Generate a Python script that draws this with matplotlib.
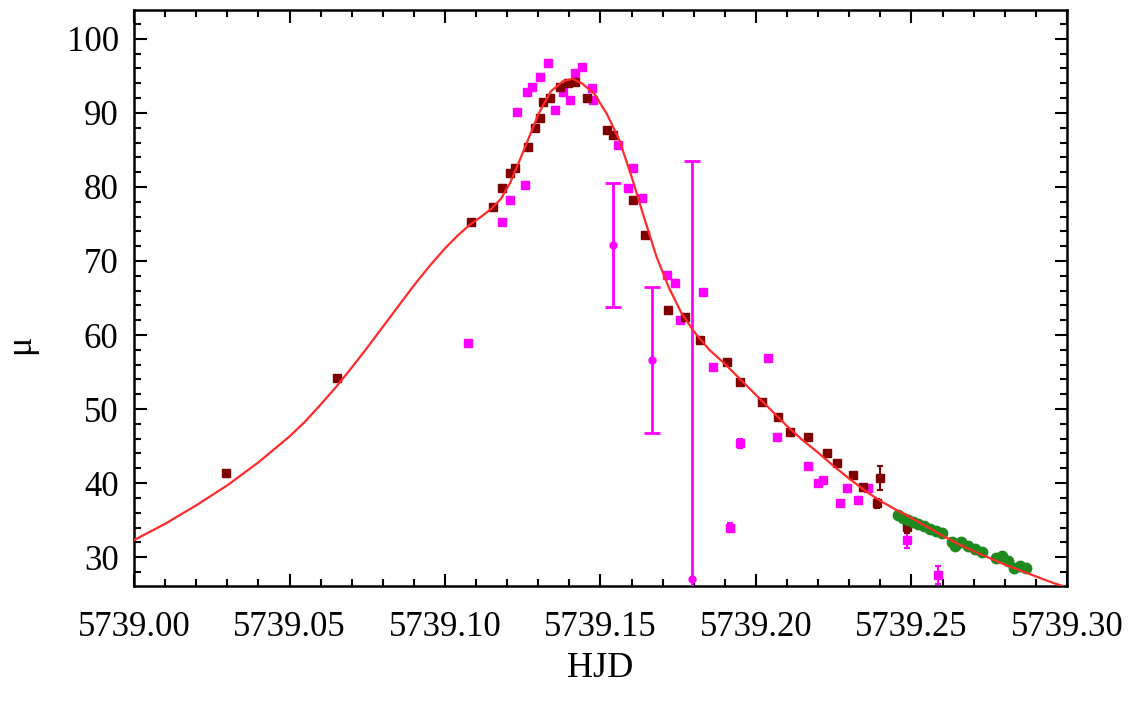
import matplotlib
matplotlib.use("Agg")
import matplotlib.pyplot as plt
import numpy as np
from matplotlib.ticker import MultipleLocator, FormatStrFormatter

plt.rcParams['font.family'] = ['Liberation Serif', 'DejaVu Serif']

T0 = 5739.0

# fitted model curve (HJD - 5739, mu)
fit_x = [0.000, 0.010, 0.020, 0.030, 0.040, 0.050, 0.055, 0.060, 0.065, 0.070,
         0.075, 0.080, 0.085, 0.090, 0.095, 0.100, 0.104, 0.108, 0.112, 0.115,
         0.118, 0.121, 0.125, 0.130, 0.134, 0.138, 0.141, 0.144, 0.148, 0.152,
         0.156, 0.160, 0.164, 0.168, 0.172, 0.176, 0.180, 0.185, 0.190, 0.195,
         0.200, 0.205, 0.210, 0.215, 0.220, 0.225, 0.230, 0.235, 0.240, 0.245,
         0.250, 0.255, 0.260, 0.265, 0.270, 0.275, 0.280, 0.285, 0.290, 0.295,
         0.300]
fit_y = [32.3, 34.5, 37.0, 39.7, 42.8, 46.3, 48.3, 50.6, 53.0, 55.6,
         58.3, 61.1, 63.9, 66.7, 69.3, 71.7, 73.4, 74.9, 76.1, 77.1,
         78.4, 80.6, 84.6, 89.8, 92.9, 94.3, 94.6, 94.0, 92.6, 89.9,
         86.4, 81.4, 75.9, 70.6, 66.4, 63.0, 60.5, 58.0, 56.1, 54.0,
         51.9, 49.8, 47.7, 45.8, 44.1, 42.3, 40.6, 39.0, 37.6, 36.4,
         35.3, 34.1, 32.9, 31.8, 30.8, 29.9, 29.0, 28.2, 27.4, 26.6,
         25.9]

# dark red data set
dark_x = [0.0296, 0.0653, 0.1083, 0.1154, 0.1183, 0.1209, 0.1225, 0.1267, 0.1289,
          0.1305, 0.1315, 0.1337, 0.1370, 0.1395, 0.1418, 0.1456, 0.1521, 0.1540,
          0.1604, 0.1643, 0.1717, 0.1772, 0.1820, 0.1906, 0.1948, 0.2019, 0.2071,
          0.2109, 0.2167, 0.2228, 0.2260, 0.2312, 0.2344, 0.2389, 0.2398, 0.2485]
dark_y = [41.3, 54.2, 75.3, 77.3, 79.9, 81.9, 82.6, 85.4, 88.0,
          89.3, 91.5, 92.0, 93.5, 94.1, 94.2, 92.0, 87.7, 87.0,
          78.2, 73.5, 63.4, 62.4, 59.3, 56.4, 53.6, 50.9, 48.9,
          46.9, 46.2, 44.1, 42.7, 41.1, 39.5, 37.3, 40.7, 34.1]
dark_e = [0.3, 0.3, 0.3, 0.3, 0.3, 0.3, 0.3, 0.3, 0.3,
          0.3, 0.3, 0.3, 0.3, 0.3, 0.3, 0.3, 0.3, 0.3,
          0.3, 0.3, 0.3, 0.3, 0.3, 0.3, 0.3, 0.3, 0.3,
          0.3, 0.3, 0.3, 0.3, 0.3, 0.3, 0.6, 1.6, 0.8]

# magenta data set
mag_x = [0.1074, 0.1183, 0.1209, 0.1231, 0.1257, 0.1264, 0.1280, 0.1305, 0.1331,
         0.1354, 0.1379, 0.1402, 0.1418, 0.1440, 0.1472, 0.1476, 0.1540, 0.1556,
         0.1588, 0.1604, 0.1633, 0.1665, 0.1714, 0.1739, 0.1755, 0.1794, 0.1829,
         0.1861, 0.1916, 0.1948, 0.2038, 0.2067, 0.2167, 0.2199, 0.2215, 0.2270,
         0.2292, 0.2328, 0.2360, 0.2485, 0.2585]
mag_y = [58.9, 75.3, 78.2, 90.1, 80.3, 92.8, 93.5, 94.9, 96.8,
         90.4, 92.8, 91.8, 95.4, 96.2, 93.4, 91.8, 72.2, 85.7,
         79.9, 82.6, 78.5, 56.6, 68.1, 67.0, 62.0, 27.0, 65.8,
         55.7, 34.0, 45.4, 56.9, 46.2, 42.3, 40.0, 40.4, 37.3,
         39.3, 37.7, 39.3, 32.3, 27.6]
mag_e = [0.3, 0.3, 0.3, 0.3, 0.3, 0.3, 0.3, 0.3, 0.3,
         0.3, 0.3, 0.3, 0.3, 0.3, 0.3, 0.3, 8.4, 0.3,
         0.3, 0.3, 0.3, 9.9, 0.3, 0.3, 0.3, 56.5, 0.3,
         0.3, 0.6, 0.6, 0.3, 0.3, 0.3, 0.3, 0.3, 0.3,
         0.3, 0.3, 0.3, 1.0, 1.2]

# green data set
green_x = [0.2456, 0.2472, 0.2488, 0.2504, 0.2520, 0.2540, 0.2559, 0.2578, 0.2598,
           0.2630, 0.2640, 0.2659, 0.2681, 0.2704, 0.2726, 0.2771, 0.2791, 0.2810,
           0.2829, 0.2848, 0.2868]
green_y = [35.7, 35.3, 35.0, 34.7, 34.5, 34.2, 33.8, 33.5, 33.2,
           32.0, 31.5, 32.0, 31.5, 31.1, 30.7, 29.9, 30.1, 29.5,
           28.5, 28.8, 28.5]
green_e = [0.3] * len(green_x)


fig = plt.figure(figsize=(11.3, 7.04), dpi=100)
ax = fig.add_axes([0.1186, 0.1676, 0.8256, 0.8182])

def draw_set(xs, ys, es, col, mk='s', size=6):
    xs = np.array(xs) + T0
    ys = np.array(ys)
    es = np.array(es)
    big = es > 5
    # small error bars: tiny caps, look like "I" marks
    ax.errorbar(xs[~big], ys[~big], yerr=es[~big], fmt=mk, color=col, ms=size,
                elinewidth=1.5, capsize=2.5, capthick=1.5, zorder=3)
    if big.any():
        ax.errorbar(xs[big], ys[big], yerr=es[big], fmt='o', color=col, ms=5,
                    elinewidth=2, capsize=6, capthick=2, zorder=3)

draw_set(mag_x, mag_y, mag_e, '#ff00ff')
draw_set(dark_x, dark_y, dark_e, '#800000')
draw_set(green_x, green_y, green_e, '#1e8a1e', mk='o', size=7.5)

ax.plot(np.array(fit_x) + T0, fit_y, color='#ff2a2a', lw=1.6, zorder=4)

ax.set_xlim(5739.0, 5739.3)
ax.set_ylim(26.1, 103.9)

ax.xaxis.set_major_locator(MultipleLocator(0.05))
ax.xaxis.set_minor_locator(MultipleLocator(0.01))
ax.xaxis.set_major_formatter(FormatStrFormatter('%.2f'))
ax.yaxis.set_major_locator(MultipleLocator(10))
ax.yaxis.set_minor_locator(MultipleLocator(2))

ax.tick_params(which='both', direction='in', top=True, right=True, width=1.5)
ax.tick_params(which='major', length=9)
ax.tick_params(which='minor', length=5)
ax.tick_params(axis='x', which='major', pad=18, labelsize=25)
ax.tick_params(axis='y', which='major', pad=11, labelsize=25)
for sp in ax.spines.values():
    sp.set_linewidth(1.8)

ax.set_xlabel('HJD', fontsize=26)
ax.xaxis.set_label_coords(0.5, -0.115)
ax.set_ylabel('\u03bc', fontsize=26)
ax.yaxis.set_label_coords(-0.104, 0.42)

fig.savefig('out.png', dpi=100)
